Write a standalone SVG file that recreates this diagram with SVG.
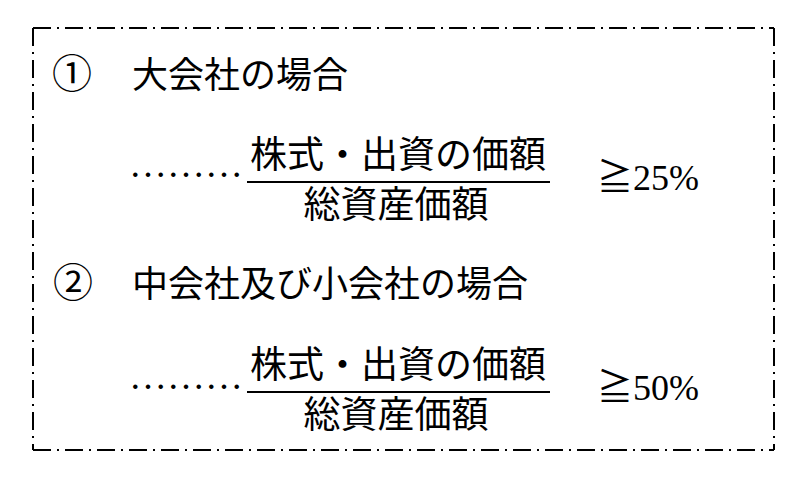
<svg xmlns="http://www.w3.org/2000/svg" width="806" height="482" viewBox="0 0 806 482">
<style>
.t{font-family:"Liberation Serif","Noto Sans CJK JP",serif;fill:#000;}
.h{font-size:36px;}
.c{font-size:40px;}
.f{font-size:37px;}
.d{font-size:38px;}
.b{stroke:#000;stroke-width:2;stroke-dasharray:18 6 2 6;fill:none;}
.r{stroke:#000;stroke-width:2;}
</style>
<rect width="806" height="482" fill="#fff"/>
<g id="frame">
<line class="b" x1="33" y1="28" x2="774" y2="28"/>
<line class="b" x1="33" y1="28" x2="33" y2="450"/>
<line class="b" x1="774" y1="28" x2="774" y2="450"/>
<line class="b" x1="33" y1="450" x2="774" y2="450"/>
</g>
<g id="case1">
<text class="t c" x="52" y="88">①</text>
<text class="t h" x="132" y="88">大会社の場合</text>
<text class="t d" x="129" y="177">………</text>
<text class="t f" x="398" y="168" text-anchor="middle">株式・出資の価額</text>
<line class="r" x1="247" y1="182" x2="550" y2="182"/>
<text class="t f" x="396" y="218" text-anchor="middle">総資産価額</text>
<text class="t h" x="597" y="190">≧25%</text>
</g>
<g id="case2">
<text class="t c" x="53" y="297">②</text>
<text class="t h" x="132" y="297">中会社及び小会社の場合</text>
<text class="t d" x="129" y="389">………</text>
<text class="t f" x="398" y="378" text-anchor="middle">株式・出資の価額</text>
<line class="r" x1="247" y1="392" x2="550" y2="392"/>
<text class="t f" x="396" y="428" text-anchor="middle">総資産価額</text>
<text class="t h" x="597" y="400">≧50%</text>
</g>
</svg>
